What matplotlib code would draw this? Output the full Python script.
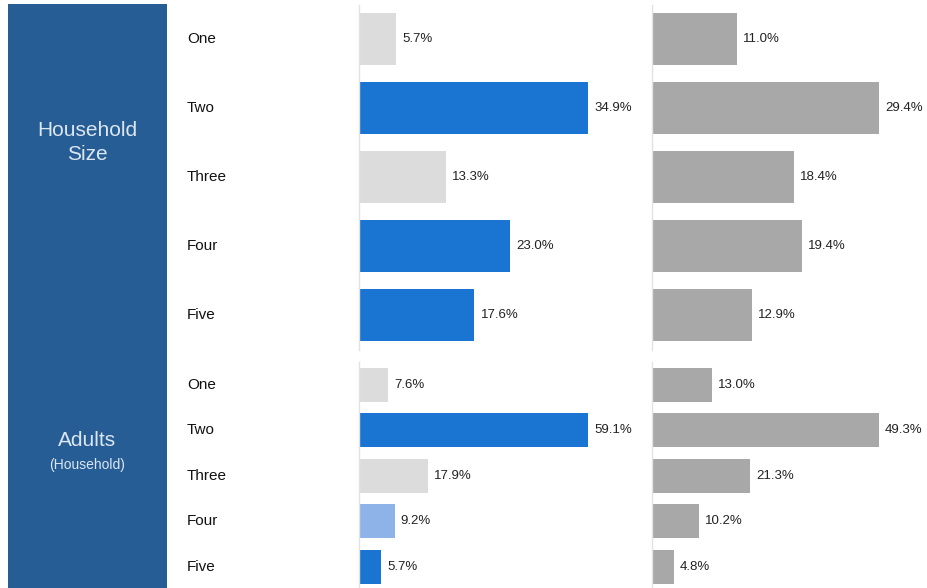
import matplotlib
matplotlib.use('Agg')
import matplotlib.pyplot as plt
from matplotlib.transforms import blended_transform_factory

plt.rcParams['font.family'] = ['Liberation Sans', 'DejaVu Sans']

# Data
rows = ['One', 'Two', 'Three', 'Four', 'Five']
size_sample = [5.7, 34.9, 13.3, 23.0, 17.6]
size_base = [11.0, 29.4, 18.4, 19.4, 12.9]
adults_sample = [7.6, 59.1, 17.9, 9.2, 5.7]
adults_base = [13.0, 49.3, 21.3, 10.2, 4.8]

# Styles
BLUE = '#1a74d2'
LBLUE = '#8db3e8'
LGRAY = '#dcdcdc'
GRAY = '#a8a8a8'
PANEL = '#265d94'
size_colors = [LGRAY, BLUE, LGRAY, BLUE, BLUE]
adults_colors = [LGRAY, BLUE, LGRAY, LBLUE, BLUE]

W, H = 928, 588
fig = plt.figure(figsize=(W / 100, H / 100), dpi=100)


def px_axes(x0, y0, x1, y1):
    # pixel box (top-left origin) -> figure axes
    return fig.add_axes([x0 / W, 1 - y1 / H, (x1 - x0) / W, (y1 - y0) / H])


# Left label panel
pax = px_axes(8, 4, 167, 588)
pax.set_facecolor(PANEL)
pax.set_xticks([])
pax.set_yticks([])
for s in pax.spines.values():
    s.set_visible(False)
pax.set_xlim(0, 1)
pax.set_ylim(588, 4)
txt = '#dce6f2'
pax.text(0.5, 130, 'Household', color=txt, fontsize=15, ha='center', va='center')
pax.text(0.5, 155, 'Size', color=txt, fontsize=15, ha='center', va='center')
pax.text(0.5, 441, 'Adults', color=txt, fontsize=15, ha='center', va='center')
pax.text(0.5, 465, '(Household)', color=txt, fontsize=10, ha='center', va='center')


def draw(ax, vals, colors, height, bar_px, width_px):
    y = list(range(len(vals)))
    ax.barh(y, vals, height=height, color=colors, zorder=2)
    ax.set_xlim(0, max(vals) * width_px / bar_px)
    for yi, v in zip(y, vals):
        ax.annotate(f'{v:.1f}%', (v, yi), xytext=(6, 0), textcoords='offset pixels',
                    ha='left', va='center', fontsize=9.5, color='#222222')
    ax.set_xticks([])
    ax.set_yticks([])
    for k in ['right', 'bottom', 'top']:
        ax.spines[k].set_visible(False)
    ax.spines['left'].set_color('#e2e2e2')
    ax.spines['left'].set_linewidth(1)


# Household size group: rows every 69 px, centre of first at 39
ax1 = px_axes(359, 4.5, 640, 349.5)
ax2 = px_axes(652, 4.5, 928, 349.5)
for ax in (ax1, ax2):
    ax.set_ylim(4.5, -0.5)
draw(ax1, size_sample, size_colors, 0.74, 229, 281)
draw(ax2, size_base, [GRAY] * 5, 0.74, 227, 276)

# Adults group: rows every 45.5 px, centre of first at 385
ax3 = px_axes(359, 362, 640, 588)
ax4 = px_axes(652, 362, 928, 588)
for ax in (ax3, ax4):
    ax.set_ylim(-0.5 + 226 / 45.5, -0.5)
draw(ax3, adults_sample, adults_colors, 0.75, 229, 281)
draw(ax4, adults_base, [GRAY] * 5, 0.75, 227, 276)

# Row labels
for ax in (ax1, ax3):
    tr = blended_transform_factory(fig.transFigure, ax.transData)
    for i, r in enumerate(rows):
        ax.text(187 / W, i, r, transform=tr, ha='left', va='center',
                fontsize=11, color='#111111')

fig.savefig('out.png', dpi=100, facecolor='white')
